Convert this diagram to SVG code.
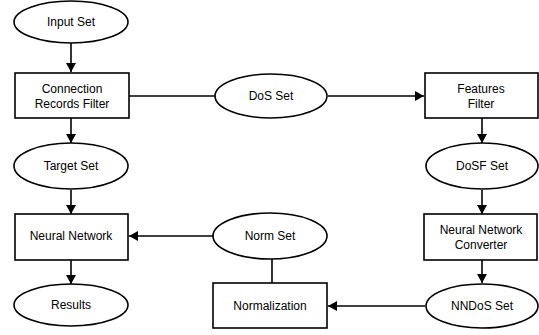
<svg xmlns="http://www.w3.org/2000/svg" width="539" height="335" viewBox="0 0 539 335">
<style>
.n{fill:#fff;stroke:#000;stroke-width:1.6}
.t{font-family:"Liberation Sans",Arial,sans-serif;font-size:12px;fill:#000;text-anchor:middle;dominant-baseline:central}
.c{fill:none;stroke:#000;stroke-width:1.6}
</style>
<defs>
<marker id="ah" markerWidth="10" markerHeight="10" refX="9" refY="5" orient="auto" markerUnits="userSpaceOnUse">
<path d="M0,0 L9,5 L0,10 Z" fill="#000"/>
</marker>
</defs>
<rect width="539" height="335" fill="#fff"/>
<g id="connectors">
<line class="c" x1="71" y1="43" x2="71" y2="72" marker-end="url(#ah)"/>
<line class="c" x1="71" y1="118" x2="71" y2="143" marker-end="url(#ah)"/>
<line class="c" x1="71" y1="190" x2="71" y2="214" marker-end="url(#ah)"/>
<line class="c" x1="71" y1="260" x2="71" y2="284" marker-end="url(#ah)"/>
<line class="c" x1="129" y1="96" x2="215" y2="96"/>
<line class="c" x1="328" y1="96" x2="424" y2="96" marker-end="url(#ah)"/>
<line class="c" x1="482" y1="118" x2="482" y2="143" marker-end="url(#ah)"/>
<line class="c" x1="482" y1="190" x2="482" y2="214" marker-end="url(#ah)"/>
<line class="c" x1="482" y1="260" x2="482" y2="283" marker-end="url(#ah)"/>
<line class="c" x1="213" y1="236" x2="129" y2="236" marker-end="url(#ah)"/>
<line class="c" x1="425" y1="306" x2="328" y2="306" marker-end="url(#ah)"/>
<line class="c" x1="272" y1="259" x2="272" y2="283"/>
</g>
<g id="input-set"><ellipse class="n" cx="71" cy="22" rx="57" ry="21"/><text class="t" x="71" y="22">Input Set</text></g>
<g id="crf"><rect class="n" x="15" y="73" width="114" height="45"/><text class="t" x="72" y="89">Connection</text><text class="t" x="72" y="104">Records Filter</text></g>
<g id="dos-set"><ellipse class="n" cx="271" cy="96" rx="56" ry="22"/><text class="t" x="271" y="96">DoS Set</text></g>
<g id="features-filter"><rect class="n" x="425" y="73" width="113" height="45"/><text class="t" x="481" y="89">Features</text><text class="t" x="481" y="104">Filter</text></g>
<g id="target-set"><ellipse class="n" cx="71" cy="166" rx="57" ry="23"/><text class="t" x="71" y="166">Target Set</text></g>
<g id="dosf-set"><ellipse class="n" cx="482" cy="166" rx="56" ry="23"/><text class="t" x="482" y="166">DoSF Set</text></g>
<g id="neural-network"><rect class="n" x="15" y="214" width="113" height="46"/><text class="t" x="71" y="236">Neural Network</text></g>
<g id="norm-set"><ellipse class="n" cx="270" cy="236" rx="57" ry="23"/><text class="t" x="270" y="236">Norm Set</text></g>
<g id="nn-converter"><rect class="n" x="424" y="214" width="113" height="46"/><text class="t" x="481" y="230">Neural Network</text><text class="t" x="481" y="245">Converter</text></g>
<g id="results"><ellipse class="n" cx="71" cy="305" rx="57" ry="21"/><text class="t" x="71" y="305">Results</text></g>
<g id="normalization"><rect class="n" x="213" y="283" width="114" height="45"/><text class="t" x="270" y="306">Normalization</text></g>
<g id="nndos-set"><ellipse class="n" cx="482" cy="306" rx="56" ry="22"/><text class="t" x="482" y="306">NNDoS Set</text></g>
</svg>
